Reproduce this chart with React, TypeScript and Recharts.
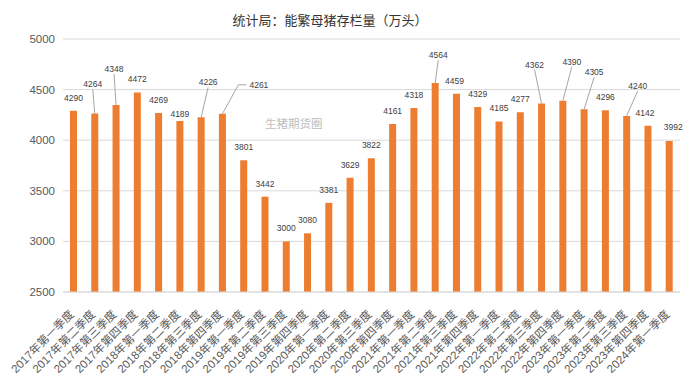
import { BarChart, Bar, XAxis, YAxis, CartesianGrid, LabelList } from "recharts";

const quarters = [
  "2017年第一季度", "2017年第二季度", "2017年第三季度", "2017年第四季度",
  "2018年第一季度", "2018年第二季度", "2018年第三季度", "2018年第四季度",
  "2019年第一季度", "2019年第二季度", "2019年第三季度", "2019年第四季度",
  "2020年第一季度", "2020年第二季度", "2020年第三季度", "2020年第四季度",
  "2021年第一季度", "2021年第二季度", "2021年第三季度", "2021年第四季度",
  "2022年第一季度", "2022年第二季度", "2022年第三季度", "2022年第四季度",
  "2023年第一季度", "2023年第二季度", "2023年第三季度", "2023年第四季度",
  "2024年第一季度",
];

const sows = [
  4290, 4264, 4348, 4472, 4269, 4189, 4226, 4261,
  3801, 3442, 3000, 3080, 3381, 3629, 3822, 4161,
  4318, 4564, 4459, 4329, 4185, 4277, 4362, 4390,
  4305, 4296, 4240, 4142, 3992,
];

const yTicks = [2500, 3000, 3500, 4000, 4500, 5000];

const data = quarters.map((q, i) => ({ q, v: sows[i] }));

const ORANGE = "#ED7D31";
const GRID = "#d9d9d9";
const FONT = '"Liberation Sans", "Noto Sans CJK SC", sans-serif';

// label placement relative to the bar top (Excel-style manual nudges)
const labelNudge: Record<number, { dx: number; dy: number; line?: boolean; side?: boolean }> = {
  1: { dx: -2, dy: -29, line: true },
  2: { dx: -2, dy: -36, line: true },
  5: { dx: 0, dy: -7 },
  6: { dx: 7, dy: -35, line: true },
  7: { dx: 27, dy: -29, line: true, side: true },
  17: { dx: 3, dy: -28, line: true },
  18: { dx: -2, dy: -13 },
  22: { dx: -7, dy: -39, line: true },
  23: { dx: 9, dy: -39, line: true },
  24: { dx: 10, dy: -37, line: true },
  26: { dx: 11, dy: -30, line: true },
  27: { dx: -3, dy: -13 },
  28: { dx: 4, dy: -14 },
};

function ValueLabel(props: any) {
  const { x, y, width, value, index } = props;
  const cx = x + width / 2;
  const n = labelNudge[index] ?? { dx: 0, dy: -13 };
  const tx = cx + n.dx;
  const ty = y + n.dy;
  return (
    <g>
      {n.line && !n.side && (
        <line x1={cx} y1={y} x2={tx} y2={ty + 5} stroke="#a6a6a6" strokeWidth={1} />
      )}
      {n.side && (
        <polyline
          points={`${cx},${y} ${cx + 16},${ty} ${tx - 3},${ty}`}
          fill="none"
          stroke="#a6a6a6"
          strokeWidth={1}
        />
      )}
      <text
        x={tx}
        y={ty}
        dy={3}
        textAnchor={n.side ? "start" : "middle"}
        fontSize={8.5}
        fontFamily={FONT}
        fill="#404040"
      >
        {value}
      </text>
    </g>
  );
}

function QuarterTick(props: any) {
  const { x, y, payload } = props;
  return (
    <g transform={`translate(${x + 1},${y + 15})`}>
      <text
        x={0}
        y={0}
        textAnchor="end"
        transform="rotate(-45)"
        fontSize={11.5}
        fontFamily={FONT}
        fill="#595959"
      >
        {payload.value}
      </text>
    </g>
  );
}

export default function App() {
  return (
    <div style={{ position: "absolute", left: 0, top: 0, width: 693, height: 377, background: "#fff" }}>
      <div
        style={{
          position: "absolute",
          left: 0,
          width: 660,
          top: 10,
          textAlign: "center",
          fontSize: 13,
          fontFamily: FONT,
          color: "#333",
        }}
      >
        统计局：能繁母猪存栏量（万头）
      </div>
      <div
        style={{
          position: "absolute",
          left: 265,
          top: 115,
          fontSize: 11.5,
          fontFamily: FONT,
          color: "#bdbdbd",
        }}
      >
        生猪期货圈
      </div>
      <BarChart
        width={693}
        height={377}
        data={data}
        margin={{ top: 39, right: 13, left: 0, bottom: 0 }}
        barSize={7}
      >
        <CartesianGrid vertical={false} stroke={GRID} />
        <XAxis
          dataKey="q"
          interval={0}
          height={85}
          tickLine={false}
          axisLine={{ stroke: GRID }}
          tick={<QuarterTick />}
        />
        <YAxis
          width={63}
          domain={[2500, 5000]}
          ticks={yTicks}
          tickLine={false}
          axisLine={false}
          tick={{ fontSize: 11.5, fontFamily: FONT, fill: "#595959" }}
        />
        <Bar dataKey="v" fill={ORANGE} isAnimationActive={false}>
          <LabelList dataKey="v" content={<ValueLabel />} />
        </Bar>
      </BarChart>
    </div>
  );
}
